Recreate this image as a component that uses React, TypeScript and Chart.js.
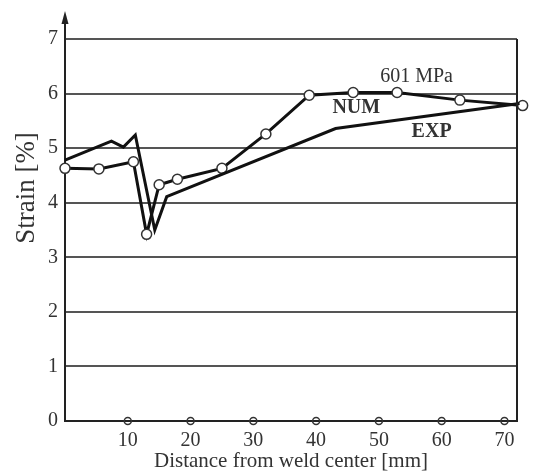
import { useEffect, useRef } from 'react';
import { Chart, registerables } from 'chart.js';

Chart.register(...registerables);

// NUM curve (with open circle markers)
const numX = [0, 5.4, 10.9, 13.0, 15.0, 17.9, 25.0, 32.0, 38.9, 45.9, 52.9, 62.9, 72.9];
const numY = [4.63, 4.62, 4.75, 3.42, 4.33, 4.43, 4.63, 5.26, 5.97, 6.02, 6.02, 5.88, 5.78];

// EXP curve (plain line)
const expX = [0, 7.4, 9.3, 11.2, 14.3, 16.2, 43.1, 72.4];
const expY = [4.78, 5.13, 5.02, 5.24, 3.5, 4.11, 5.36, 5.82];

const xTicks = [10, 20, 30, 40, 50, 60, 70];
const yTicks = [0, 1, 2, 3, 4, 5, 6, 7];

const notes = [
  { text: '601 MPa', x: 56.0, y: 6.3, bold: false },
  { text: 'NUM', x: 46.4, y: 5.73, bold: true },
  { text: 'EXP', x: 58.4, y: 5.29, bold: true },
];

const FONT = '"Liberation Serif", "DejaVu Serif", serif';
const TEXT = '#333';

const extras = {
  id: 'extras',
  afterDraw(chart: Chart) {
    const { ctx, chartArea, scales } = chart;
    const { left, right, top, bottom } = chartArea;
    ctx.save();
    // right frame
    ctx.strokeStyle = '#222';
    ctx.lineWidth = 2;
    ctx.beginPath();
    ctx.moveTo(right, top);
    ctx.lineTo(right, bottom);
    ctx.stroke();
    // y axis arrow
    ctx.beginPath();
    ctx.moveTo(left, top);
    ctx.lineTo(left, 20);
    ctx.stroke();
    ctx.fillStyle = '#222';
    ctx.beginPath();
    ctx.moveTo(left, 11);
    ctx.lineTo(left - 3.5, 24);
    ctx.lineTo(left + 3.5, 24);
    ctx.closePath();
    ctx.fill();
    // y title
    ctx.fillStyle = TEXT;
    ctx.font = `27px ${FONT}`;
    ctx.textAlign = 'center';
    ctx.textBaseline = 'middle';
    ctx.translate(27, 188);
    ctx.rotate(-Math.PI / 2);
    ctx.fillText('Strain [%]', 0, 0);
    ctx.restore();

    ctx.save();
    ctx.fillStyle = TEXT;
    ctx.textAlign = 'center';
    ctx.textBaseline = 'middle';
    for (const n of notes) {
      ctx.font = `${n.bold ? 'bold ' : ''}20px ${FONT}`;
      ctx.fillText(n.text, scales.x.getPixelForValue(n.x), scales.y.getPixelForValue(n.y));
    }
    ctx.restore();
  },
};

export default function App() {
  const canvasRef = useRef<HTMLCanvasElement>(null);

  useEffect(() => {
    if (!canvasRef.current) return;
    document.body.style.margin = '0';

    const chart = new Chart(canvasRef.current, {
      type: 'scatter',
      data: {
        datasets: [
          {
            label: 'EXP',
            data: expX.map((x, i) => ({ x, y: expY[i] })),
            showLine: true,
            borderColor: '#111',
            borderWidth: 3,
            pointRadius: 0,
            clip: false,
          },
          {
            label: 'NUM',
            data: numX.map((x, i) => ({ x, y: numY[i] })),
            showLine: true,
            borderColor: '#111',
            borderWidth: 3,
            pointRadius: 5,
            pointBorderWidth: 1.5,
            pointBorderColor: '#333',
            pointBackgroundColor: '#fff',
            clip: false,
          },
          {
            label: 'ticks',
            data: xTicks.map((x) => ({ x, y: 0 })),
            showLine: false,
            pointRadius: 3.5,
            pointBorderWidth: 1.5,
            pointBorderColor: '#333',
            pointBackgroundColor: 'rgba(0,0,0,0)',
            clip: false,
          },
        ],
      },
      options: {
        responsive: false,
        animation: false,
        layout: { padding: { top: 39, right: 27, left: 0, bottom: 0 } },
        plugins: { legend: { display: false }, tooltip: { enabled: false } },
        scales: {
          x: {
            type: 'linear',
            min: 0,
            max: 72,
            afterFit: (s: any) => { s.height = 51; },
            afterBuildTicks: (s: any) => { s.ticks = xTicks.map((v) => ({ value: v })); },
            grid: { display: false, drawTicks: false },
            border: { display: true, color: '#222', width: 2 },
            ticks: { color: TEXT, font: { family: FONT, size: 20 }, padding: 8, maxRotation: 0 },
            title: {
              display: true,
              text: 'Distance from weld center [mm]',
              color: TEXT,
              font: { family: FONT, size: 21, lineHeight: 1 },
              padding: 0,
            },
          },
          y: {
            min: 0,
            max: 7,
            afterFit: (s: any) => { s.width = 65; },
            afterBuildTicks: (s: any) => { s.ticks = yTicks.map((v) => ({ value: v })); },
            grid: { color: '#555', lineWidth: 2, drawTicks: false },
            border: { display: true, color: '#222', width: 2 },
            ticks: { color: TEXT, font: { family: FONT, size: 20 }, padding: 7 },
          },
        },
      },
      plugins: [extras],
    });

    return () => {
      chart.destroy();
    };
  }, []);

  return (
    <div style={{ width: 544, height: 472, background: '#fff' }}>
      <canvas ref={canvasRef} width={544} height={472} />
    </div>
  );
}
